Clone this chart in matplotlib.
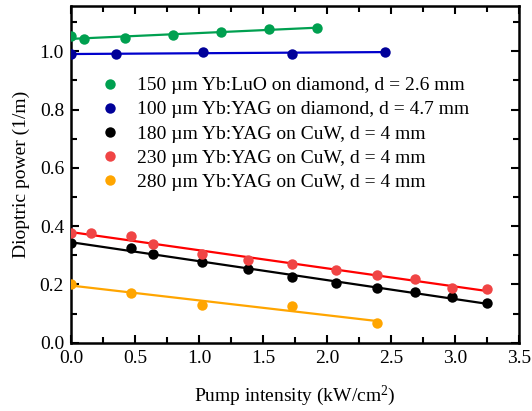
import numpy as np
import matplotlib
matplotlib.use("Agg")
import matplotlib.pyplot as plt

plt.rcParams['font.family'] = ['Liberation Serif', 'DejaVu Serif']
plt.rcParams['mathtext.fontset'] = 'custom'
plt.rcParams['mathtext.rm'] = 'Liberation Serif'
plt.rcParams['mathtext.it'] = 'Liberation Serif:italic'

labels = [
    "150 µm Yb:LuO on diamond, d = 2.6 mm",
    "100 µm Yb:YAG on diamond, d = 4.7 mm",
    "180 µm Yb:YAG on CuW, d = 4 mm",
    "230 µm Yb:YAG on CuW, d = 4 mm",
    "280 µm Yb:YAG on CuW, d = 4 mm",
]

x_luo = [0.0, 0.10, 0.42, 0.795, 1.17, 1.545, 1.92]
y_luo = [1.051, 1.042, 1.045, 1.056, 1.066, 1.077, 1.081]

x_yag100 = [0.0, 0.352, 1.03, 1.73, 2.45]
y_yag100 = [0.991, 0.990, 0.998, 0.991, 0.999]

x_yag180 = [0.0, 0.47, 0.64, 1.02, 1.38, 1.73, 2.07, 2.39, 2.69, 2.98, 3.25]
y_yag180 = [0.343, 0.326, 0.303, 0.276, 0.254, 0.227, 0.204, 0.187, 0.173, 0.156, 0.136]

x_yag230 = [0.0, 0.16, 0.47, 0.64, 1.02, 1.38, 1.73, 2.07, 2.39, 2.69, 2.98, 3.25]
y_yag230 = [0.377, 0.375, 0.366, 0.338, 0.306, 0.283, 0.271, 0.248, 0.234, 0.219, 0.187, 0.185]

x_yag280 = [0.0, 0.47, 1.02, 1.73, 2.39]
y_yag280 = [0.200, 0.172, 0.130, 0.126, 0.068]

series = [
    (x_luo, y_luo, '#00A050', '#00A050'),
    (x_yag100, y_yag100, '#000099', '#0000CC'),
    (x_yag180, y_yag180, '#000000', '#000000'),
    (x_yag230, y_yag230, '#F04545', '#FF0000'),
    (x_yag280, y_yag280, '#FFA500', '#FFA500'),
]

fig = plt.figure(figsize=(5.32, 4.11), dpi=100)
ax = fig.add_axes([0.1335, 0.166, 0.842, 0.819])

for (xs, ys, mc, lc), lab in zip(series, labels):
    xs = np.array(xs); ys = np.array(ys)
    p = np.polyfit(xs, ys, 1)
    xl = np.array([xs.min(), xs.max()])
    ax.plot(xl, np.polyval(p, xl), color=lc, lw=1.6, zorder=2)
    ax.plot(xs, ys, 'o', color=mc, ms=7.5, mec='none', label=lab, zorder=3)

ax.set_xlim(0, 3.5)
ax.set_ylim(0, 1.155)
ax.set_xticks(np.arange(0, 3.51, 0.5))
ax.set_xticks(np.arange(0.25, 3.5, 0.5), minor=True)
ax.set_yticks(np.arange(0, 1.01, 0.2))
ax.set_yticks(np.arange(0.1, 1.15, 0.2), minor=True)
ax.xaxis.set_major_formatter(matplotlib.ticker.FormatStrFormatter('%.1f'))
ax.yaxis.set_major_formatter(matplotlib.ticker.FormatStrFormatter('%.1f'))
ax.tick_params(which='both', direction='in', top=True, right=True, width=1.5, labelsize=14)
ax.tick_params(which='major', length=6, pad=5)
ax.tick_params(which='minor', length=4)
for s in ax.spines.values():
    s.set_linewidth(1.8)

ax.set_xlabel("Pump intensity (kW/cm$^2$)", fontsize=14, labelpad=12)
ax.set_ylabel("Dioptric power (1/m)", fontsize=14, labelpad=7)

ax.legend(loc='upper left', bbox_to_anchor=(0.065, 0.79), frameon=False, fontsize=14,
          handlelength=1.0, handletextpad=0.9, labelspacing=0.33, borderpad=0, borderaxespad=0)

fig.savefig("out.png", dpi=100)
